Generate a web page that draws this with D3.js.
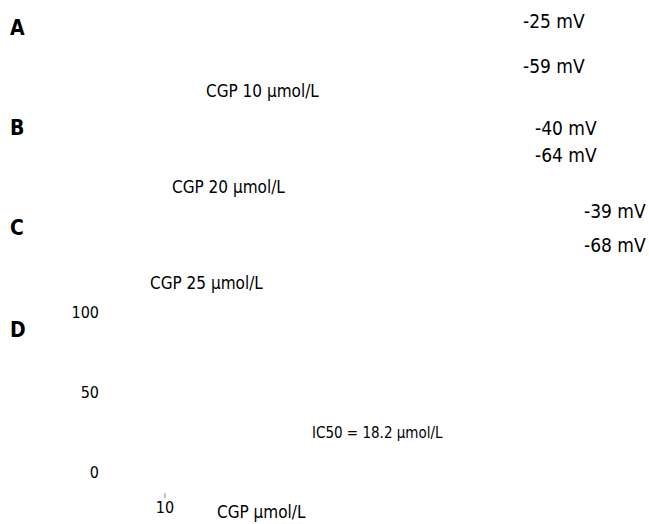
<!DOCTYPE html>
<html lang="en">
<head>
    <meta charset="UTF-8">
    <title>CGP</title>
    <script src="https://cdnjs.cloudflare.com/ajax/libs/d3/7.8.5/d3.min.js"></script>
    <style>
        body { margin: 0; background: #fff; }
        text { font-family: "DejaVu Sans Condensed", "DejaVu Sans", sans-serif; }
    </style>
</head>
<body>
<svg width="649" height="524"></svg>

<script>
    // panel data
    var panels = ['A', 'B', 'C'];
    var doses = [10, 20, 25];            // CGP umol/L
    var peakMv = [-25, -40, -39];        // mV labels (upper)
    var restMv = [-59, -64, -68];        // mV labels (lower)

    // panel D: concentration-response
    var yTicks = [0, 50, 100];
    var xTicks = [10];
    var ic50 = 18.2;

    var svg = d3.select('svg');
    var font = '"DejaVu Sans Condensed", "DejaVu Sans", sans-serif';

    var letterX = 10;
    var letterY = [35, 135, 235];
    var mvX = [523, 535, 584];
    var mvY = [[28, 73], [135, 162], [218, 252]];
    var doseX = [206, 172, 150];
    var doseY = [97, 193, 289];

    panels.forEach(function (p, i) {
        var g = svg.append('g');
        g.append('text')
            .attr('x', letterX).attr('y', letterY[i])
            .attr('font-family', '"DejaVu Sans", sans-serif')
            .attr('font-size', 21).attr('font-weight', 'bold')
            .text(p);
        g.append('text')
            .attr('x', mvX[i]).attr('y', mvY[i][0])
            .attr('font-size', 19)
            .text(peakMv[i] + ' mV');
        g.append('text')
            .attr('x', mvX[i]).attr('y', mvY[i][1])
            .attr('font-size', 19)
            .text(restMv[i] + ' mV');
        g.append('text')
            .attr('x', doseX[i]).attr('y', doseY[i])
            .attr('font-size', 17)
            .text('CGP ' + doses[i] + ' \u03bcmol/L');
    });

    // panel D
    svg.append('text')
        .attr('x', letterX).attr('y', 337)
        .attr('font-family', '"DejaVu Sans", sans-serif')
        .attr('font-size', 21).attr('font-weight', 'bold')
        .text('D');

    var y = d3.scaleLinear().domain([0, 100]).range([472, 312]);
    var x = d3.scaleLog().domain([7.5, 100]).range([110, 600]);

    var yAxis = svg.append('g')
        .attr('transform', 'translate(100,0)')
        .call(d3.axisLeft(y).tickValues(yTicks).tickSize(0).tickPadding(1));
    yAxis.select('.domain').remove();
    yAxis.selectAll('text').attr('font-size', 16).attr('font-family', font);

    var xAxis = svg.append('g')
        .attr('transform', 'translate(0,493)')
        .call(d3.axisBottom(x).tickValues(xTicks).tickFormat(d3.format('d')).tickSize(5).tickPadding(4));
    xAxis.select('.domain').remove();
    xAxis.selectAll('line').attr('stroke', '#888');
    xAxis.selectAll('text').attr('font-size', 16).attr('font-family', font);

    svg.append('text')
        .attr('x', 217).attr('y', 518)
        .attr('font-size', 17)
        .text('CGP \u03bcmol/L');

    svg.append('text')
        .attr('x', 312).attr('y', 438)
        .attr('font-size', 15)
        .text('IC50 = ' + ic50 + ' \u03bcmol/L');
</script>
</body>
</html>
